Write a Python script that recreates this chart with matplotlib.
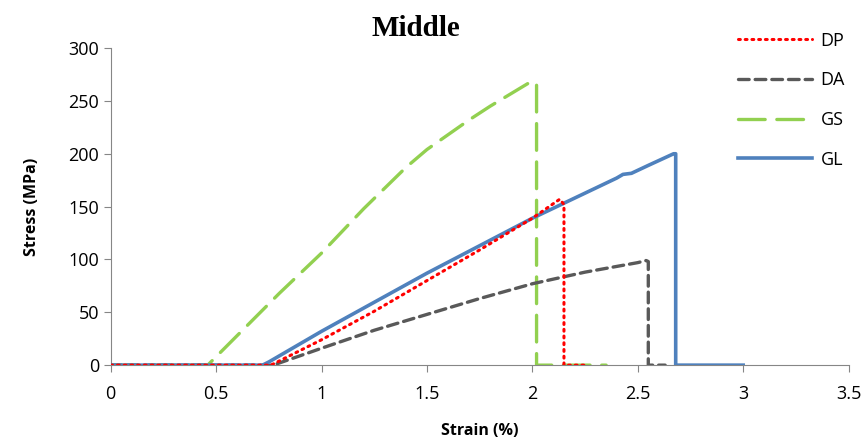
import matplotlib
matplotlib.use("Agg")
import matplotlib.pyplot as plt

# strain (%) / stress (MPa) curves
dp_x = [0, 0.76, 0.9, 1.0, 1.25, 1.5, 1.75, 2.0, 2.13, 2.15, 2.15, 2.25]
dp_y = [0, 0, 14, 24, 51, 80, 109, 139, 157, 152, 0, 0]

da_x = [0, 0.77, 0.9, 1.0, 1.25, 1.5, 1.75, 2.0, 2.25, 2.5, 2.54, 2.55, 2.55, 2.63]
da_y = [0, 0, 9, 16, 33, 48, 63, 77, 88, 97, 99, 98, 0, 0]

gs_x = [0, 0.46, 0.6, 0.8, 1.0, 1.2, 1.4, 1.5, 1.6, 1.7, 1.8, 1.9, 2.0, 2.02, 2.02, 2.35]
gs_y = [0, 0, 28, 68, 106, 148, 187, 204, 218, 232, 245, 257, 269, 265, 0, 0]

gl_x = [0, 0.72, 0.75, 1.0, 1.5, 2.0, 2.2, 2.4, 2.43, 2.47, 2.55, 2.67, 2.68, 2.68, 3.0]
gl_y = [0, 0, 3, 32, 87, 139, 158, 177, 180.5, 181.5, 189, 200, 200, 0, 0]

plt.rcParams['font.family'] = ['Open Sans', 'DejaVu Sans']

fig = plt.figure(figsize=(8.65, 4.41), dpi=100)
ax = fig.add_axes([0.128, 0.172, 0.853, 0.719])

ax.plot(dp_x, dp_y, color='#ff0000', lw=2.2, linestyle=(0, (0.6, 1.6)),
        dash_capstyle='round', label='DP', zorder=4)
ax.plot(da_x, da_y, color='#595959', lw=2.4, linestyle=(0, (3.2, 1.8)),
        dash_capstyle='round', label='DA', zorder=3)
ax.plot(gs_x, gs_y, color='#92d050', lw=2.4, linestyle=(0, (8, 3.5)),
        dash_capstyle='round', label='GS', zorder=2)
ax.plot(gl_x, gl_y, color='#4f81bd', lw=2.6, label='GL', zorder=3)

ax.set_xlim(0, 3.5)
ax.set_ylim(0, 300)
ax.set_xticks([0, 0.5, 1, 1.5, 2, 2.5, 3, 3.5])
ax.set_xticklabels(['0', '0.5', '1', '1.5', '2', '2.5', '3', '3.5'])
ax.set_yticks([0, 50, 100, 150, 200, 250, 300])

for s in ['top', 'right']:
    ax.spines[s].set_visible(False)
for s in ['left', 'bottom']:
    ax.spines[s].set_color('#868686')
ax.tick_params(colors='#868686', labelcolor='black', labelsize=13, length=5)
ax.tick_params(axis='x', pad=9)

ax.set_xlabel('Strain (%)', fontsize=11.5, fontweight='bold', labelpad=15)
ax.set_ylabel('Stress (MPa)', fontsize=11.5, fontweight='bold', labelpad=20)
fig.text(0.481, 0.935, 'Middle', fontsize=21, fontweight='bold',
         family='Liberation Serif', ha='center', va='center')

fig.legend(loc='upper left', bbox_to_anchor=(0.834, 0.965), frameon=False,
           fontsize=13, handlelength=4.1, labelspacing=1.2, handletextpad=0.5)

fig.savefig('out.png', dpi=100)
